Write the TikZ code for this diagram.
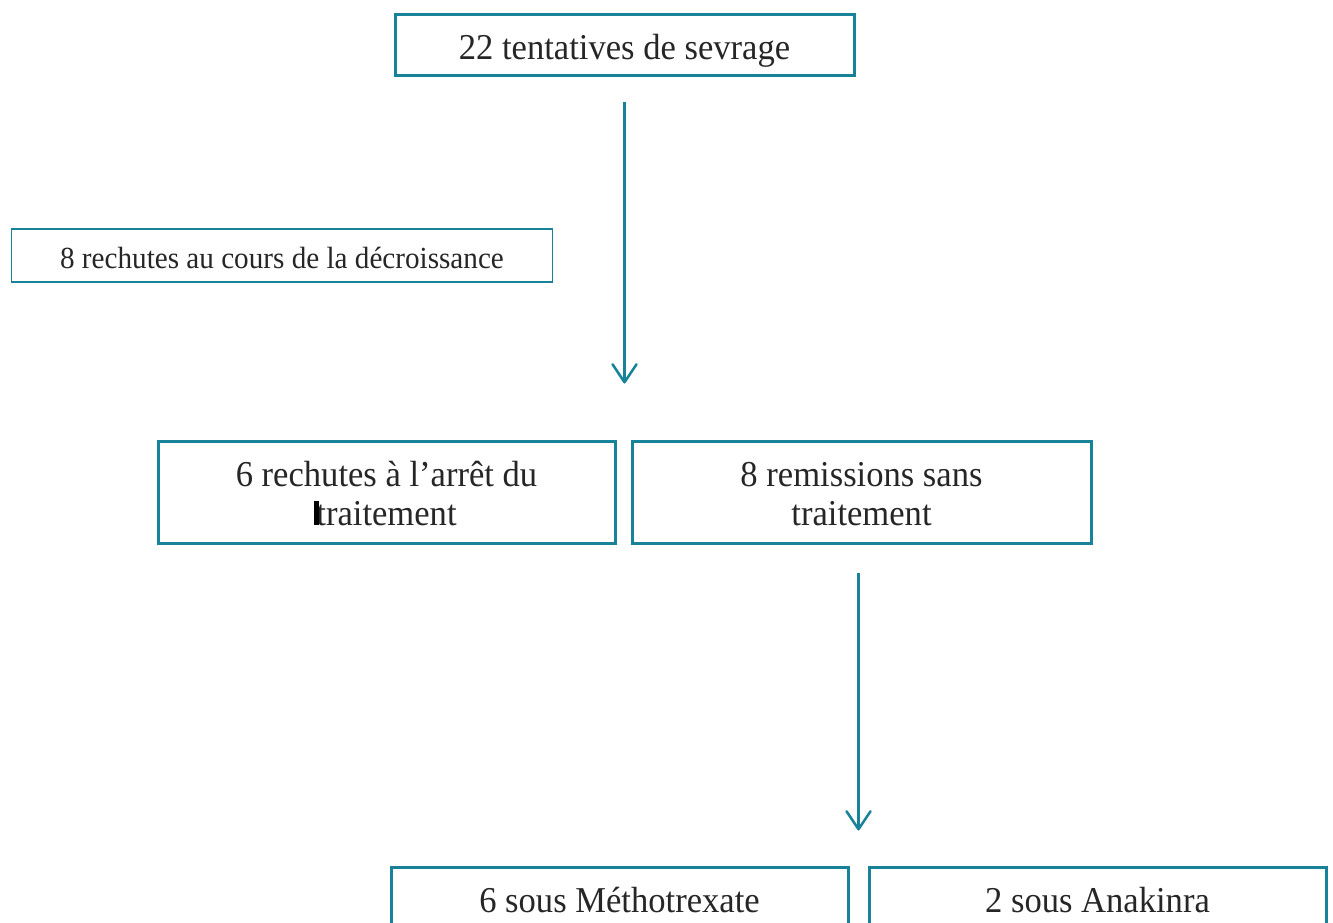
\documentclass[tikz,border=0pt]{standalone}
\usepackage{fontspec}
\setmainfont[FakeStretch=0.95]{Liberation Serif}
\usetikzlibrary{arrows.meta,calc}
\definecolor{boxteal}{RGB}{24,130,153}
\begin{document}
\begin{tikzpicture}[x=1pt,y=-1pt,
  box/.style={draw=boxteal, line width=3pt, inner sep=0pt, align=center,
    text=black!85, font=\fontsize{36.4}{39}\selectfont},
  thinbox/.style={draw=boxteal, line width=1.5pt, inner sep=0pt, align=center,
    text=black!85, font=\fontsize{30.7}{33}\selectfont},
  arr/.style={draw=boxteal, line width=2.5pt,
    -{Straight Barb[length=18pt,width=24pt,line width=2.5pt,line cap=round,line join=round]}}]
\useasboundingbox (0,0) rectangle (1333,922);
\clip (0,0) rectangle (1333,922);
\node[box, minimum width=459pt, minimum height=61pt, text height=29pt, text depth=0pt] (top) at (624.5,44.5) {22 tentatives de sevrage};
\node[thinbox, minimum width=541pt, minimum height=53pt, text height=25.4pt, text depth=0pt] (decr) at (282,255.5) {8 rechutes au cours de la décroissance};
\node[box, minimum width=457pt, minimum height=102pt] (arret) at (386.5,492) {\rule{0pt}{28.9pt}6 rechutes à l’arrêt du\\traitement};
\node[box, minimum width=459pt, minimum height=102pt] (remis) at (861.5,492) {\rule{0pt}{28.9pt}8 remissions sans\\traitement};
\node[box, minimum width=457pt, minimum height=66pt, text height=24pt, text depth=0pt] (mtx) at (619.5,900) {6 sous Méthotrexate};
\node[box, minimum width=457pt, minimum height=66pt, text height=24pt, text depth=0pt] (ana) at (1097.5,900) {2 sous Anakinra};
\fill[black] (314,501) rectangle (318.5,525);
\coordinate (ab) at ($(arret.north east)!0.5!(remis.north west)$);
\coordinate (cd) at ($(mtx.north east)!0.5!(ana.north west)$);
\draw[arr, shorten <=25pt, shorten >=56pt] (top.south) -- (top.south |- ab);
\draw[arr, shorten <=28pt, shorten >=35pt] (remis.south -| cd) -- (cd);
\end{tikzpicture}
\end{document}
